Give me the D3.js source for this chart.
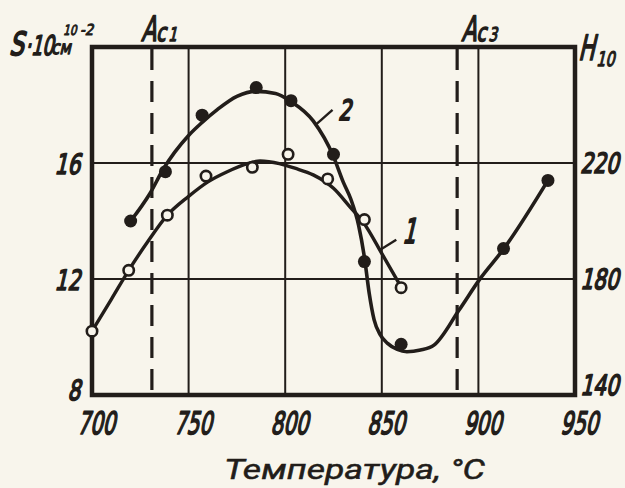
<!DOCTYPE html>
<html>
<head>
<meta charset="utf-8">
<script src="https://cdn.jsdelivr.net/npm/d3@7"></script>
<style>
  html, body { margin: 0; padding: 0; background: #f8f5ec; }
  svg { display: block; }
</style>
</head>
<body>
<svg id="chart" width="625" height="488"></svg>
<script>
// Measured points: S (10^10 cm^-2, left axis) vs. temperature, °C
// Series 1 — open circles, series 2 — filled circles
const series1Temp = [700, 719, 739, 759, 783, 801.5, 822, 841, 860];
const series1S    = [10.2, 12.3, 14.2, 15.55, 15.85, 16.3, 15.45, 14.05, 11.7];
const series2Temp = [720, 738, 757, 785, 803, 825, 841, 860, 913, 936];
const series2S    = [14.0, 15.7, 17.65, 18.6, 18.15, 16.3, 12.6, 9.75, 13.05, 15.4];

// Hand-smoothed trend curves through each series
const trend1Temp = [700, 710, 719, 729, 739, 750, 760, 770, 780, 787, 797, 805, 814.5, 825, 833.5, 840.5, 850.5, 860.4];
const trend1S    = [10.2, 11.3, 12.3, 13.3, 14.2, 14.85, 15.35, 15.7, 15.97, 16.07, 15.98, 15.82, 15.59, 15.13, 14.49, 13.95, 12.82, 11.68];
const trend2Temp = [720, 730, 737, 750, 757, 765, 775, 785, 795, 803, 814.5, 825, 830, 834, 838, 841, 843.5, 846, 849, 853, 858, 863, 870, 877, 890, 901, 913, 936];
const trend2S    = [14.0, 14.95, 15.8, 16.95, 17.4, 17.85, 18.3, 18.47, 18.4, 18.12, 17.45, 16.22, 15.35, 14.75, 13.85, 12.75, 11.5, 10.6, 10.1, 9.78, 9.57, 9.49, 9.55, 9.72, 10.93, 12.02, 13.03, 15.4];

// Axes
const xTicks = [700, 750, 800, 850, 900, 950];
const yLeftTicks = [8, 12, 16];
const yRightTicks = [140, 180, 220];
const gridTemps = [750, 800, 850, 900];
const gridS = [12, 16];

// Critical temperatures
const criticalNames = ["Ac", "Ac"];
const criticalSubs = ["1", "3"];
const criticalTemps = [731, 889];

const INK = "#221d1a";
const PAPER = "#f8f5ec";
const FONT = "'DejaVu Sans', sans-serif";

const svg = d3.select("#chart");
svg.append("rect").attr("width", 625).attr("height", 488).attr("fill", PAPER);

const x = d3.scaleLinear().domain([700, 950]).range([92, 575]);
const y = d3.scaleLinear().domain([8, 20]).range([395, 47]);
const yR = d3.scaleLinear().domain([140, 260]).range([395, 47]);

// grid
const grid = svg.append("g").attr("stroke", INK).attr("stroke-width", 2);
grid.selectAll("line.v").data(gridTemps).join("line")
  .attr("x1", d => x(d)).attr("x2", d => x(d))
  .attr("y1", y(20)).attr("y2", y(8));
grid.selectAll("line.h").data(gridS).join("line")
  .attr("x1", x(700)).attr("x2", x(950))
  .attr("y1", d => y(d)).attr("y2", d => y(d));

// critical temperature markers
svg.append("g").selectAll("line").data(criticalTemps).join("line")
  .attr("x1", d => x(d)).attr("x2", d => x(d))
  .attr("y1", y(20) + 2).attr("y2", y(8))
  .attr("stroke", INK).attr("stroke-width", 3.2)
  .attr("stroke-dasharray", "21,11");

// frame
svg.append("rect")
  .attr("x", x(700)).attr("y", y(20))
  .attr("width", x(950) - x(700)).attr("height", y(8) - y(20))
  .attr("fill", "none").attr("stroke", INK).attr("stroke-width", 4.5);

// trend curves
const line = d3.line().x(d => x(d[0])).y(d => y(d[1])).curve(d3.curveMonotoneX);
const trend1 = d3.zip(trend1Temp, trend1S);
const trend2 = d3.zip(trend2Temp, trend2S);
svg.append("path").attr("d", line(trend1))
  .attr("fill", "none").attr("stroke", INK).attr("stroke-width", 3.4).attr("stroke-linecap", "round");
svg.append("path").attr("d", line(trend2))
  .attr("fill", "none").attr("stroke", INK).attr("stroke-width", 3.6).attr("stroke-linecap", "round");

// markers
svg.append("g").selectAll("circle").data(d3.zip(series1Temp, series1S)).join("circle")
  .attr("cx", d => x(d[0])).attr("cy", d => y(d[1])).attr("r", 5.2)
  .attr("fill", PAPER).attr("stroke", INK).attr("stroke-width", 2.6);
svg.append("g").selectAll("circle").data(d3.zip(series2Temp, series2S)).join("circle")
  .attr("cx", d => x(d[0])).attr("cy", d => y(d[1])).attr("r", 6.5)
  .attr("fill", INK);

// text helper: condensed, slanted drafting lettering
function label(px, py, str, size, sx, anchor, weight) {
  svg.append("text")
    .attr("transform", `translate(${px},${py}) skewX(-13) scale(${sx},1)`)
    .attr("font-family", FONT)
    .attr("font-weight", "normal")
    .attr("font-size", size).attr("fill", INK)
    .attr("stroke", INK).attr("stroke-width", weight || 1.7).attr("stroke-linejoin", "round")
    .attr("text-anchor", anchor || "start")
    .text(str);
}

// bottom tick labels
xTicks.forEach(t => label(x(t) + 4, y(8) + 39, String(t), 31, 0.64, "middle"));
// left tick labels
yLeftTicks.forEach(v => label(80, Math.min(y(v) + 11, y(8) + 5), String(v), 28, 0.72, "end"));
// right tick labels
yRightTicks.forEach(v => label(580, Math.min(yR(v) + 10, yR(140)), String(v), 28, 0.72, "start"));

// critical temperature names
criticalTemps.forEach((t, i) => {
  const off = i === 0 ? -11 : 4;
  label(x(t) + off, 41, criticalNames[i][0], 35, 0.62);
  label(x(t) + off + 15, 41, criticalNames[i][1], 25, 0.7);
  label(x(t) + off + 27, 41, criticalSubs[i], 19, 0.72, "start", 1.3);
});

// left axis title: S·10^10 см^-2
label(9, 55, "S", 32, 0.72, "start", 2);
label(25, 55, "·10", 27, 0.66);
label(51, 54, "см", 19, 0.8, "start", 1.3);
label(63, 35, "10", 14, 0.75, "start", 1);
label(80, 35, "-2", 15, 0.9, "start", 1);

// right axis title: H10
label(578, 60, "H", 35, 0.62);
label(596, 66, "10", 20, 0.72, "start", 1.3);

// curve labels with leader strokes
const leaderFrom = [[849, 13.0], [816.3, 17.35]];
const leaderTo   = [[857.5, 13.35], [824.5, 17.83]];
svg.append("g").selectAll("line").data(d3.zip(leaderFrom, leaderTo)).join("line")
  .attr("x1", d => x(d[0][0])).attr("y1", d => y(d[0][1]))
  .attr("x2", d => x(d[1][0])).attr("y2", d => y(d[1][1]))
  .attr("stroke", INK).attr("stroke-width", 2.4);
label(402, 243, "1", 34, 0.62, "start", 2);
label(338, 120, "2", 28, 0.72, "start", 2);

// x axis title
svg.append("text")
  .attr("x", 224).attr("y", 479)
  .attr("font-family", "Roboto, 'DejaVu Sans', sans-serif").attr("font-style", "italic")
  .attr("font-size", 28).attr("fill", INK)
  .attr("stroke", INK).attr("stroke-width", 0.5)
  .attr("textLength", 261).attr("lengthAdjust", "spacingAndGlyphs")
  .text("Температура, °C");
</script>
</body>
</html>
